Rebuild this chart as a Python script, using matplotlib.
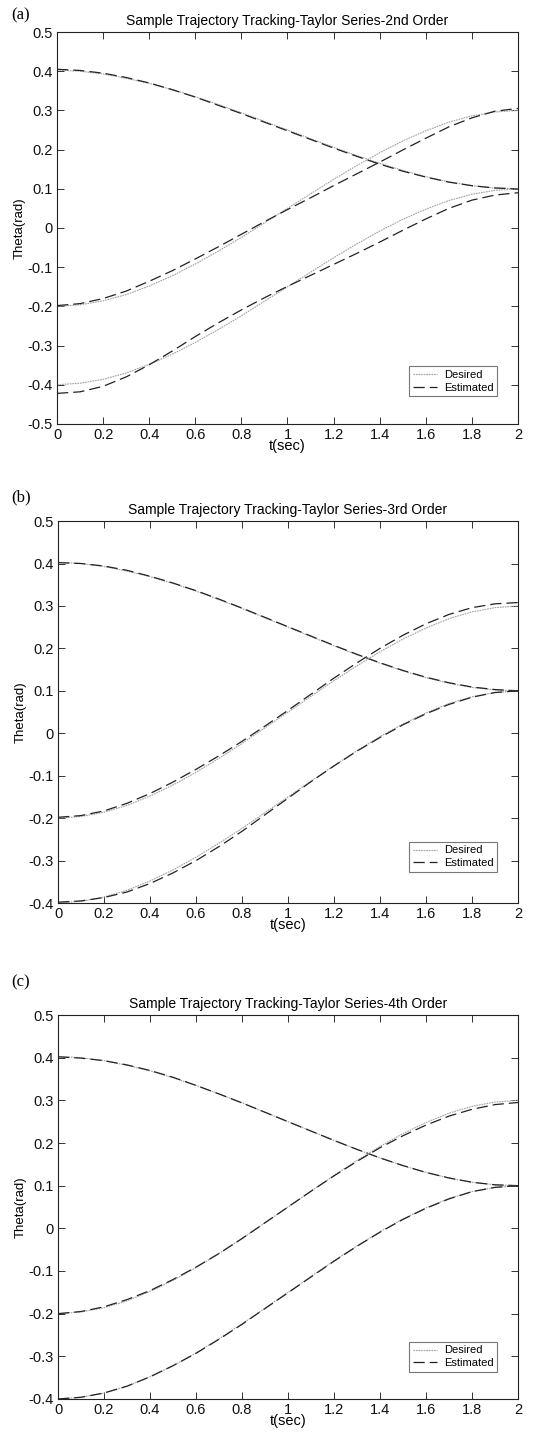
import numpy as np
import matplotlib.pyplot as plt

plt.rcParams["font.family"] = ["Liberation Sans", "DejaVu Sans"]

t = [0.0, 0.1, 0.2, 0.3, 0.4, 0.5, 0.6, 0.7, 0.8, 0.9, 1.0,
     1.1, 1.2, 1.3, 1.4, 1.5, 1.6, 1.7, 1.8, 1.9, 2.0]

# desired joint trajectories (same in all three panels)
des_1 = [0.403, 0.400, 0.393, 0.382, 0.369, 0.353, 0.335, 0.315, 0.294, 0.272, 0.250,
         0.228, 0.206, 0.185, 0.165, 0.147, 0.131, 0.118, 0.108, 0.102, 0.100]
des_2 = [-0.200, -0.196, -0.186, -0.170, -0.148, -0.122, -0.092, -0.059, -0.024, 0.013, 0.050,
         0.087, 0.124, 0.159, 0.192, 0.222, 0.248, 0.270, 0.286, 0.296, 0.300]
des_3 = [-0.400, -0.396, -0.386, -0.370, -0.348, -0.322, -0.292, -0.259, -0.224, -0.187, -0.150,
         -0.113, -0.076, -0.041, -0.008, 0.022, 0.048, 0.070, 0.086, 0.096, 0.100]

# estimated, 2nd order
est2_1 = [0.405, 0.402, 0.395, 0.384, 0.370, 0.353, 0.334, 0.313, 0.292, 0.270, 0.248,
          0.226, 0.204, 0.183, 0.163, 0.145, 0.130, 0.117, 0.108, 0.102, 0.100]
est2_2 = [-0.198, -0.193, -0.180, -0.161, -0.136, -0.109, -0.079, -0.048, -0.016, 0.016, 0.047,
          0.077, 0.108, 0.138, 0.168, 0.199, 0.229, 0.258, 0.281, 0.298, 0.305]
est2_3 = [-0.422, -0.418, -0.404, -0.380, -0.349, -0.314, -0.277, -0.242, -0.209, -0.178, -0.149,
          -0.121, -0.093, -0.065, -0.036, -0.006, 0.023, 0.050, 0.071, 0.084, 0.090]

# estimated, 3rd order
est3_1 = [0.402, 0.400, 0.394, 0.384, 0.370, 0.354, 0.336, 0.316, 0.295, 0.273, 0.251,
          0.229, 0.207, 0.186, 0.166, 0.148, 0.132, 0.119, 0.109, 0.103, 0.100]
est3_2 = [-0.198, -0.194, -0.183, -0.165, -0.142, -0.115, -0.085, -0.053, -0.019, 0.017, 0.054,
          0.092, 0.130, 0.166, 0.200, 0.231, 0.258, 0.280, 0.296, 0.305, 0.308]
est3_3 = [-0.398, -0.395, -0.387, -0.374, -0.354, -0.329, -0.300, -0.267, -0.231, -0.192, -0.153,
          -0.114, -0.077, -0.042, -0.010, 0.020, 0.046, 0.068, 0.085, 0.096, 0.100]

# estimated, 4th order
est4_1 = [0.402, 0.399, 0.393, 0.383, 0.370, 0.354, 0.335, 0.315, 0.294, 0.272, 0.250,
          0.228, 0.206, 0.185, 0.165, 0.147, 0.131, 0.118, 0.108, 0.102, 0.100]
est4_2 = [-0.200, -0.195, -0.184, -0.167, -0.146, -0.120, -0.091, -0.059, -0.024, 0.013, 0.050,
          0.087, 0.123, 0.157, 0.189, 0.217, 0.242, 0.263, 0.279, 0.290, 0.295]
est4_3 = [-0.400, -0.396, -0.386, -0.370, -0.348, -0.322, -0.293, -0.260, -0.225, -0.188, -0.151,
          -0.114, -0.077, -0.042, -0.009, 0.021, 0.047, 0.069, 0.086, 0.096, 0.100]

titles = ["Sample Trajectory Tracking-Taylor Series-2nd Order",
          "Sample Trajectory Tracking-Taylor Series-3rd Order",
          "Sample Trajectory Tracking-Taylor Series-4th Order"]
panel_tags = ["(a)", "(b)", "(c)"]
estimates = [(est2_1, est2_2, est2_3), (est3_1, est3_2, est3_3), (est4_1, est4_2, est4_3)]
ylims = [(-0.5, 0.5), (-0.4, 0.5), (-0.4, 0.5)]

# [left, bottom, width, height] in figure fraction, legend anchor y
boxes = [[0.1033, 0.7062, 0.835, 0.2716],
         [0.1051, 0.3742, 0.8333, 0.2647],
         [0.1051, 0.0305, 0.8333, 0.2661]]
leg_y = [0.056, 0.068, 0.057]
tag_y = [0.9890, 0.6555, 0.3190]

fig = plt.figure(figsize=(5.52, 14.43), dpi=100)

for i in range(3):
    ax = fig.add_axes(boxes[i])
    e1, e2, e3 = estimates[i]
    for k, (d, e) in enumerate([(des_1, e1), (des_2, e2), (des_3, e3)]):
        ax.plot(t, d, color="#a0a0a0", lw=0.8, ls=(0, (1.5, 0.8)),
                label="Desired" if k == 0 else None)
        ax.plot(t, e, color="#222222", lw=0.9, ls=(0, (9, 4)),
                label="Estimated" if k == 0 else None)
    ax.set_xlim(0, 2)
    ax.set_ylim(*ylims[i])
    ax.set_xticks(np.arange(0, 2.01, 0.2))
    ax.set_xticklabels(["0", "0.2", "0.4", "0.6", "0.8", "1", "1.2", "1.4", "1.6", "1.8", "2"])
    yt = np.round(np.arange(ylims[i][0], 0.501, 0.1), 1)
    ax.set_yticks(yt)
    ax.set_yticklabels(["0" if abs(v) < 1e-9 else f"{v:g}" for v in yt])
    ax.tick_params(direction="in", top=True, right=True, length=5, width=0.6,
                   labelsize=10.5, pad=3, colors="#111111")
    for sp in ax.spines.values():
        sp.set_linewidth(0.8)
        sp.set_color("#222222")
    ax.set_title(titles[i], fontsize=10, pad=5)
    ax.set_xlabel("t(sec)", fontsize=10.5, labelpad=-2)
    ax.set_ylabel("Theta(rad)", fontsize=9.5, labelpad=1)
    leg = ax.legend(loc="lower right", bbox_to_anchor=(0.967, leg_y[i]), fontsize=8,
                    frameon=True, fancybox=False, handlelength=2.2, borderpad=0.35,
                    labelspacing=0.2, handletextpad=0.6)
    leg.get_frame().set_edgecolor("#555555")
    leg.get_frame().set_linewidth(0.8)
    fig.text(0.02, tag_y[i], panel_tags[i], fontsize=12,
             family=["Liberation Serif", "DejaVu Serif"], va="center")

fig.savefig("out.png", dpi=100)
